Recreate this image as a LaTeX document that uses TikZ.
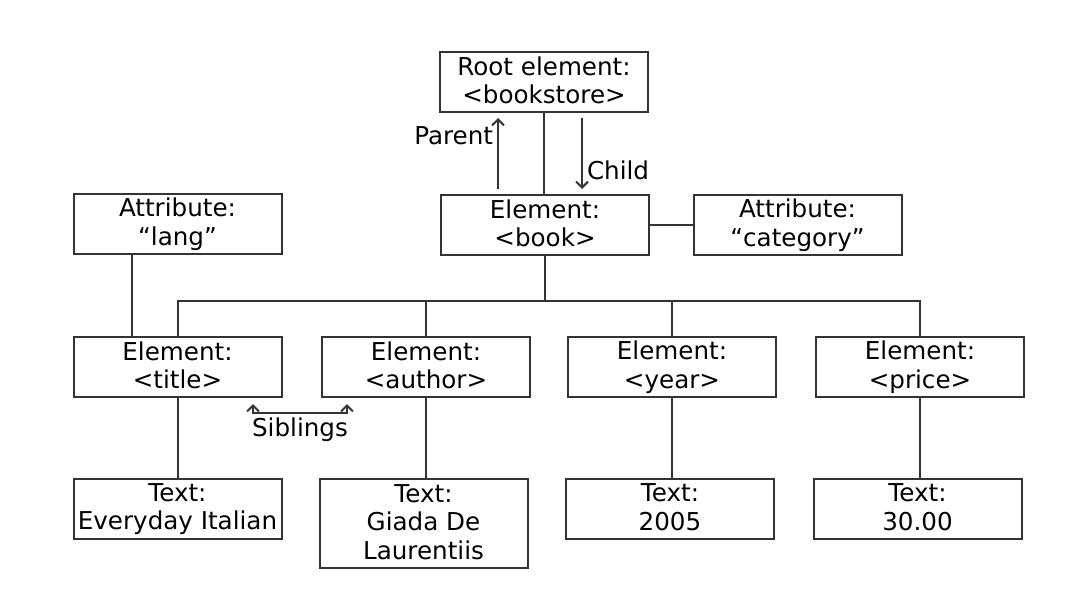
\documentclass[tikz,border=0pt]{standalone}
\usepackage{fontspec}
\setmainfont{DejaVu Sans}
\usetikzlibrary{arrows.meta}
\definecolor{linegray}{rgb}{0.2,0.2,0.2}
\newcommand\boxstrut{\rule[-1.8pt]{0pt}{15.8pt}}
\tikzset{
  box/.style={draw=linegray, line width=1pt, minimum width=104pt, minimum height=30pt,
    align=center, inner xsep=2pt, inner ysep=0pt, font=\fontsize{12.3}{14.3}\selectfont,
    execute at begin node=\boxstrut, execute at end node=\boxstrut},
  lbl/.style={font=\fontsize{12.3}{14.3}\selectfont, inner sep=2pt},
  barb/.tip={Straight Barb[length=3pt,width=6pt]}
}

\begin{document}
\begin{tikzpicture}[x=0.5pt,y=-0.5pt]
\useasboundingbox (0,0) rectangle (1086,590);

\node[box] (root) at (544,82) {Root element:\\<bookstore>};
\node[box] (book) at (545,225) {Element:\\<book>};
\node[box] (lang) at (177.5,224) {Attribute:\\“lang”};
\node[box] (category) at (797.5,225) {Attribute:\\“category”};

\node[box] (title) at (177.5,367) {Element:\\<title>};
\node[box] (author) at (426,367) {Element:\\<author>};
\node[box] (year) at (672,367) {Element:\\<year>};
\node[box] (price) at (920,367) {Element:\\<price>};

\node[box, anchor=north] (ttitle) at (177.5,478) {Text:\\Everyday Italian};
\node[box, anchor=north, minimum height=44.5pt] (tauthor) at (423.5,478) {Text:\\Giada De\\Laurentiis};
\node[box, anchor=north] (tyear) at (670,478) {Text:\\2005};
\node[box, anchor=north] (tprice) at (917.5,478) {Text:\\30.00};

\coordinate (bus) at (0,301);

\begin{scope}[draw=linegray, line width=1pt]
\draw (root.south) -- (root.south |- book.north);
\draw (book) -- (category);
\draw (book.south) -- (book.south |- bus);
\draw (title.north) -- (title.north |- bus) -- (price.north |- bus) -- (price.north);
\draw (author.north) -- (author.north |- bus);
\draw (year.north) -- (year.north |- bus);
\draw ([xshift=-23pt]lang.south) -- ([xshift=-23pt]lang.south |- title.north);

\draw (title) -- (ttitle);
\draw (author.south) -- (author.south |- tauthor.north);
\draw (year.south) -- (year.south |- tyear.north);
\draw (price.south) -- (price.south |- tprice.north);

% parent / child
\coordinate (pa) at (498,189);
\coordinate (pb) at (498,118);
\coordinate (ca) at (582,118);
\coordinate (cb) at (582,189);
\draw[-barb] (pa) -- (pb) node[lbl, pos=0.75, left, text=black] {Parent};
\draw[-barb] (ca) -- (cb) node[lbl, pos=0.73, right, text=black] {Child};

% siblings
\coordinate (sa) at (253,404);
\coordinate (sb) at (347,404);
\draw[barb-barb] (sa) -- ++(0,9) -| (sb) node[lbl, pos=0.25, below, text=black] {Siblings};
\end{scope}
%\draw (current bounding box.south west) rectangle (current bounding box.north east);
\end{tikzpicture}
\end{document}
